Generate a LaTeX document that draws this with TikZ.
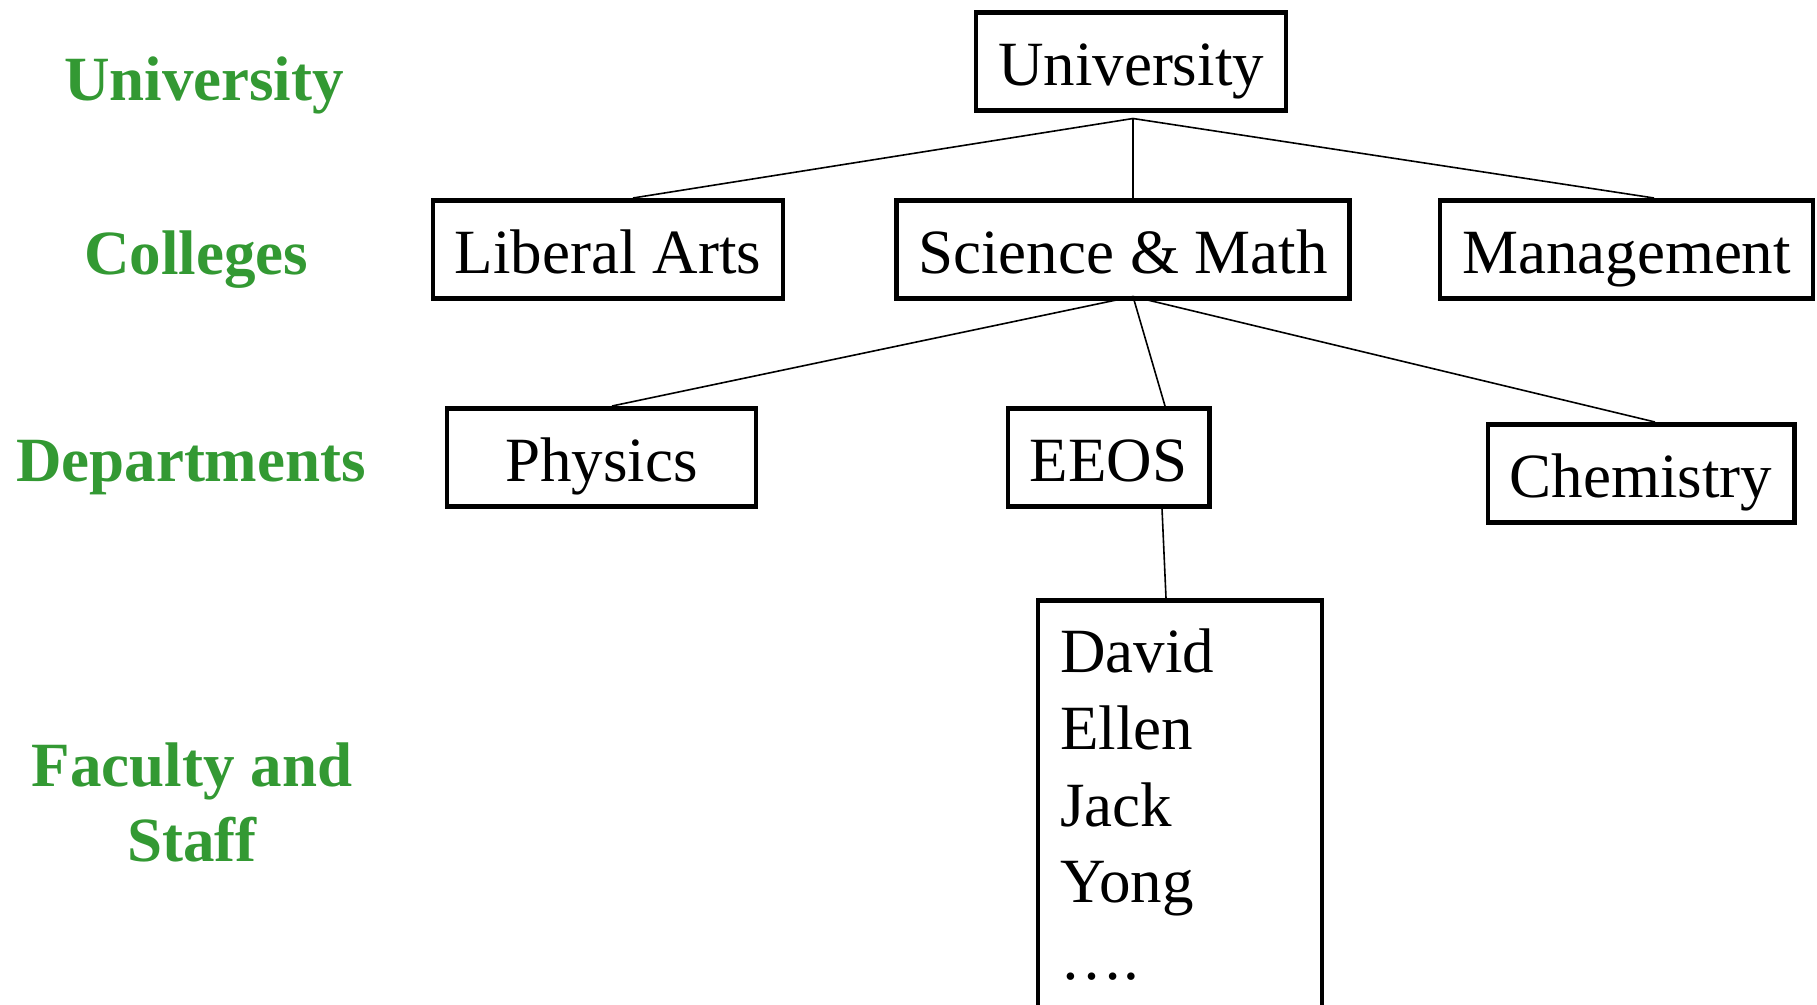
\documentclass[tikz,border=0pt]{standalone}
\usepackage{fontspec}
\setmainfont{Liberation Serif}
\definecolor{levelgreen}{RGB}{51,153,51}
\tikzset{
  unitbox/.style={draw, line width=4.5pt, rectangle, inner xsep=22pt, inner ysep=0pt,
    text height=73pt, text depth=25pt, anchor=north, font=\fontsize{63}{76}\selectfont},
  level/.style={text=levelgreen, font=\fontsize{63}{75}\selectfont\bfseries},
  link/.style={line width=1.6pt},
}
\begin{document}
\begin{tikzpicture}[x=1pt, y=-1pt]
  \useasboundingbox (0,0) rectangle (1817,1004);
  \clip (0,0) rectangle (1817,1004);
  % Level names
  \node[level, anchor=base] (lvuniv) at (204,100) {University};
  \node[level, anchor=base] (lvcoll) at (196,274) {Colleges};
  \node[level, anchor=base] (lvdept) at (191,481) {Departments};
  \node[level, anchor=north, align=center] (lvstaff) at (192,739) {Faculty and\\Staff};
  % Boxes
  \node[unitbox] (univ) at (1131,10) {University};
  \node[unitbox] (lib) at (608,198) {Liberal Arts};
  \node[unitbox] (sci) at (1123,198) {Science \& Math};
  \node[unitbox] (mgmt) at (1626.5,198) {Management};
  \node[unitbox, minimum width=309pt] (phys) at (601.5,406) {Physics};
  \node[unitbox] (eeos) at (1108.5,406) {EEOS};
  \node[unitbox] (chem) at (1641,422) {Chemistry};
  \node[draw, line width=4.5pt, minimum width=284pt, minimum height=500pt,
    anchor=north, inner sep=0pt] (staff) at (1180,598) {};
  \foreach \who [count=\i] in {David, Ellen, Jack, Yong, ….}
    \node[anchor=base west, inner sep=0pt, font=\fontsize{63}{76}\selectfont]
      (name\i) at (1060, 596+76.7*\i) {\who};
  % Lines
  \coordinate (univfork) at ([xshift=2pt, yshift=-6pt]univ.south);
  \coordinate (scifork) at ([xshift=10pt, yshift=4pt]sci.south);
  \draw[link] (univfork) -- ([xshift=25pt]lib.north);
  \draw[link] (univfork) -- ([xshift=10pt]sci.north);
  \draw[link] (univfork) -- ([xshift=27.5pt]mgmt.north);
  \draw[link] (scifork) -- ([xshift=10.5pt]phys.north);
  \draw[link] (scifork) -- ([xshift=56.5pt]eeos.north);
  \draw[link] (scifork) -- ([xshift=14pt]chem.north);
  \draw[link] ([xshift=53.5pt]eeos.south) -- ([xshift=-14pt]staff.north);
\end{tikzpicture}
\end{document}
